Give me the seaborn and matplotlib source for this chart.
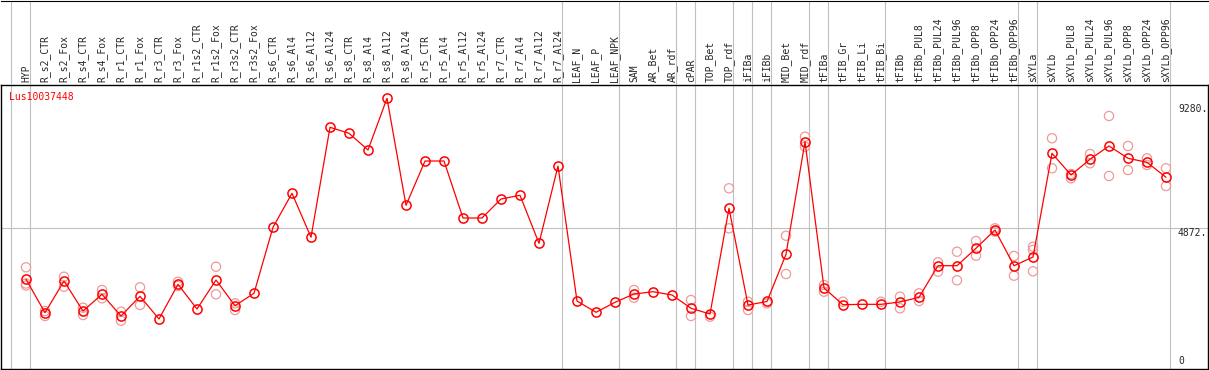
import matplotlib
matplotlib.use("Agg")
import matplotlib.pyplot as plt
import numpy as np
import pandas as pd
import seaborn as sns

samples = ["HYP", "R_s2_CTR", "R_s2_Fox", "R_s4_CTR", "R_s4_Fox", "R_r1_CTR", "R_r1_Fox",
           "R_r3_CTR", "R_r3_Fox", "R_r1s2_CTR", "R_r1s2_Fox", "R_r3s2_CTR", "R_r3s2_Fox",
           "R_s6_CTR", "R_s6_Al4", "R_s6_Al12", "R_s6_Al24", "R_s8_CTR", "R_s8_Al4",
           "R_s8_Al12", "R_s8_Al24", "R_r5_CTR", "R_r5_Al4", "R_r5_Al12", "R_r5_Al24",
           "R_r7_CTR", "R_r7_Al4", "R_r7_Al12", "R_r7_Al24", "LEAF_N", "LEAF_P", "LEAF_NPK",
           "SAM", "AR_Bet", "AR_rdf", "cPAR", "TOP_Bet", "TOP_rdf", "iFIBa", "iFIBb",
           "MID_Bet", "MID_rdf", "tFIBa", "tFIB_Gr", "tFIB_Li", "tFIB_Bi", "tFIBb",
           "tFIBb_PUL8", "tFIBb_PUL24", "tFIBb_PUL96", "tFIBb_OPP8", "tFIBb_OPP24",
           "tFIBb_OPP96", "sXYLa", "sXYLb", "sXYLb_PUL8", "sXYLb_PUL24", "sXYLb_PUL96",
           "sXYLb_OPP8", "sXYLb_OPP24", "sXYLb_OPP96"]

means = [3069, 1882, 3005, 1942, 2534, 1765, 2463, 1658, 2888, 2013,
         3040, 2130, 2569, 4908, 6113, 4554, 8451, 8239, 7647, 9479,
         5687, 7257, 7257, 5237, 5237, 5911, 6042, 4341, 7080, 2296,
         1896, 2250, 2544, 2626, 2509, 2038, 1836, 5581, 2155, 2279,
         3951, 7941, 2757, 2165, 2179, 2179, 2261, 2427, 3547, 3547,
         4164, 4812, 3547, 3855, 7530, 6761, 7318, 7789, 7353, 7211,
         6680]

# replicate values (only the ones that show apart from the mean)
rep_samples = ["HYP", "HYP", "HYP", "R_s2_CTR", "R_s2_CTR", "R_s2_Fox", "R_s2_Fox",
               "R_s4_CTR", "R_s4_CTR", "R_s4_Fox", "R_s4_Fox", "R_r1_CTR", "R_r1_CTR",
               "R_r1_Fox", "R_r1_Fox", "R_r3_Fox", "R_r3_Fox", "R_r1s2_Fox", "R_r1s2_Fox",
               "R_r3s2_CTR", "R_r3s2_CTR", "SAM", "SAM", "cPAR", "cPAR", "TOP_Bet",
               "TOP_rdf", "TOP_rdf", "iFIBa", "iFIBa", "iFIBb", "MID_Bet", "MID_Bet",
               "MID_rdf", "MID_rdf", "tFIBa", "tFIBa", "tFIB_Gr", "tFIB_Bi", "tFIBb", "tFIBb",
               "tFIBb_PUL8", "tFIBb_PUL8", "tFIBb_PUL24", "tFIBb_PUL24", "tFIBb_PUL96",
               "tFIBb_PUL96", "tFIBb_OPP8", "tFIBb_OPP8", "tFIBb_OPP24", "tFIBb_OPP24",
               "tFIBb_OPP96", "tFIBb_OPP96", "sXYLa", "sXYLa", "sXYLa", "sXYLb", "sXYLb",
               "sXYLb_PUL8", "sXYLb_PUL8", "sXYLb_PUL24", "sXYLb_PUL24", "sXYLb_PUL96",
               "sXYLb_PUL96", "sXYLb_OPP8", "sXYLb_OPP8", "sXYLb_OPP24", "sXYLb_OPP24",
               "sXYLb_OPP96", "sXYLb_OPP96"]
rep_values = [3490, 2916, 2846, 1942, 1765, 3157, 2803,
              2059, 1800, 2686, 2392, 1917, 1598,
              2782, 2155, 2980, 2828, 3512, 2534,
              2215, 1977, 2686, 2413, 2332, 1765, 1740,
              6290, 4872, 2271, 1977, 2215, 4610, 3253,
              8118, 7764, 2863, 2626, 2271, 2271, 2449, 2038,
              2569, 2296, 3668, 3335, 4043,
              3030, 4422, 3902, 4872, 4752,
              3891, 3193, 4220, 4104, 3349, 8062, 6999,
              6797, 6644, 7505, 7176, 8852,
              6726, 7789, 6938, 7353, 7116,
              6999, 6371]

# group separators sit right after these samples
group_ends = [None, "HYP", "R_r7_Al24", "LEAF_NPK", "AR_rdf", "cPAR", "TOP_rdf", "iFIBa",
              "iFIBb", "MID_rdf", "tFIBa", "tFIB_Bi", "tFIBb_OPP96", "sXYLa", "sXYLb_OPP96"]

y_ticks = [0, 4872, 9280]
y_labels = ["0", "4872.", "9280."]
gene = "Lus10037448"

pos = {s: i for i, s in enumerate(samples)}
mean_df = pd.DataFrame({"pos": range(len(samples)), "value": means})
rep_df = pd.DataFrame({"pos": [pos[s] for s in rep_samples], "value": rep_values})

sns.set_style("white")
mono = ["DejaVu Sans Mono"]
grid_c = "#c0c0c0"

W, H = 1209, 370
fig = plt.figure(figsize=(W / 100, H / 100), dpi=100)
ax = fig.add_axes([1 / W, 1 - 369 / H, 1207 / W, 284 / H])
hdr = fig.add_axes([1 / W, 1 - 85 / H, 1207 / W, 84.5 / H], sharex=ax)

xlo, xhi = (1 - 26) / 19, (1208 - 26) / 19
ax.set_xlim(xlo, xhi)
ax.set_ylim(-113, 9950)
hdr.set_ylim(0, 1)

for a in (ax, hdr):
    for g in group_ends:
        xg = (pos[g] if g else -1) + 0.2
        a.axvline(xg, color=grid_c, lw=0.8, zorder=0)
ax.axhline(4872, color=grid_c, lw=0.8, zorder=0)

sns.scatterplot(data=rep_df, x="pos", y="value", marker="o", s=44, color="#ee9a9a",
                facecolor="none", edgecolor="#ee9a9a", linewidth=0.9, zorder=2, ax=ax)
sns.lineplot(data=mean_df, x="pos", y="value", color="red", lw=0.9, marker="o",
             markersize=6.6, markerfacecolor="none", markeredgecolor="red",
             markeredgewidth=1.1, errorbar=None, zorder=3, ax=ax)

ax.set_xlabel("")
ax.set_ylabel("")
ax.xaxis.set_ticks_position("top")
ax.set_xticks(range(len(samples)))
ax.set_xticklabels(samples, rotation=90, fontsize=7, family=mono)
ax.tick_params(axis="x", length=0, pad=2, top=True, bottom=False,
               labeltop=True, labelbottom=False)
plt.setp(hdr.get_xticklabels(), visible=False)
hdr.tick_params(axis="both", length=0, labelbottom=False, labelleft=False)
hdr.set_yticks([])

ax.set_yticks(y_ticks)
ax.set_yticklabels(y_labels, fontsize=7, family=mono)
ax.tick_params(axis="y", left=False, right=False, labelleft=False,
               labelright=True, length=0, pad=-21.6)
for t in ax.yaxis.get_major_ticks():
    t.label2.set_va("top")
ax.yaxis.get_major_ticks()[0].label2.set_va("bottom")

ax.text(8 / 1207, 1 - 7 / 284, gene, transform=ax.transAxes, color="red",
        fontsize=7, family=mono, ha="left", va="top")

for sp in ax.spines.values():
    sp.set_color("black")
    sp.set_linewidth(1.0)
for name, sp in hdr.spines.items():
    sp.set_visible(name == "top")
    sp.set_color("black")
hdr.patch.set_alpha(0)

fig.savefig("out.png", dpi=100)
